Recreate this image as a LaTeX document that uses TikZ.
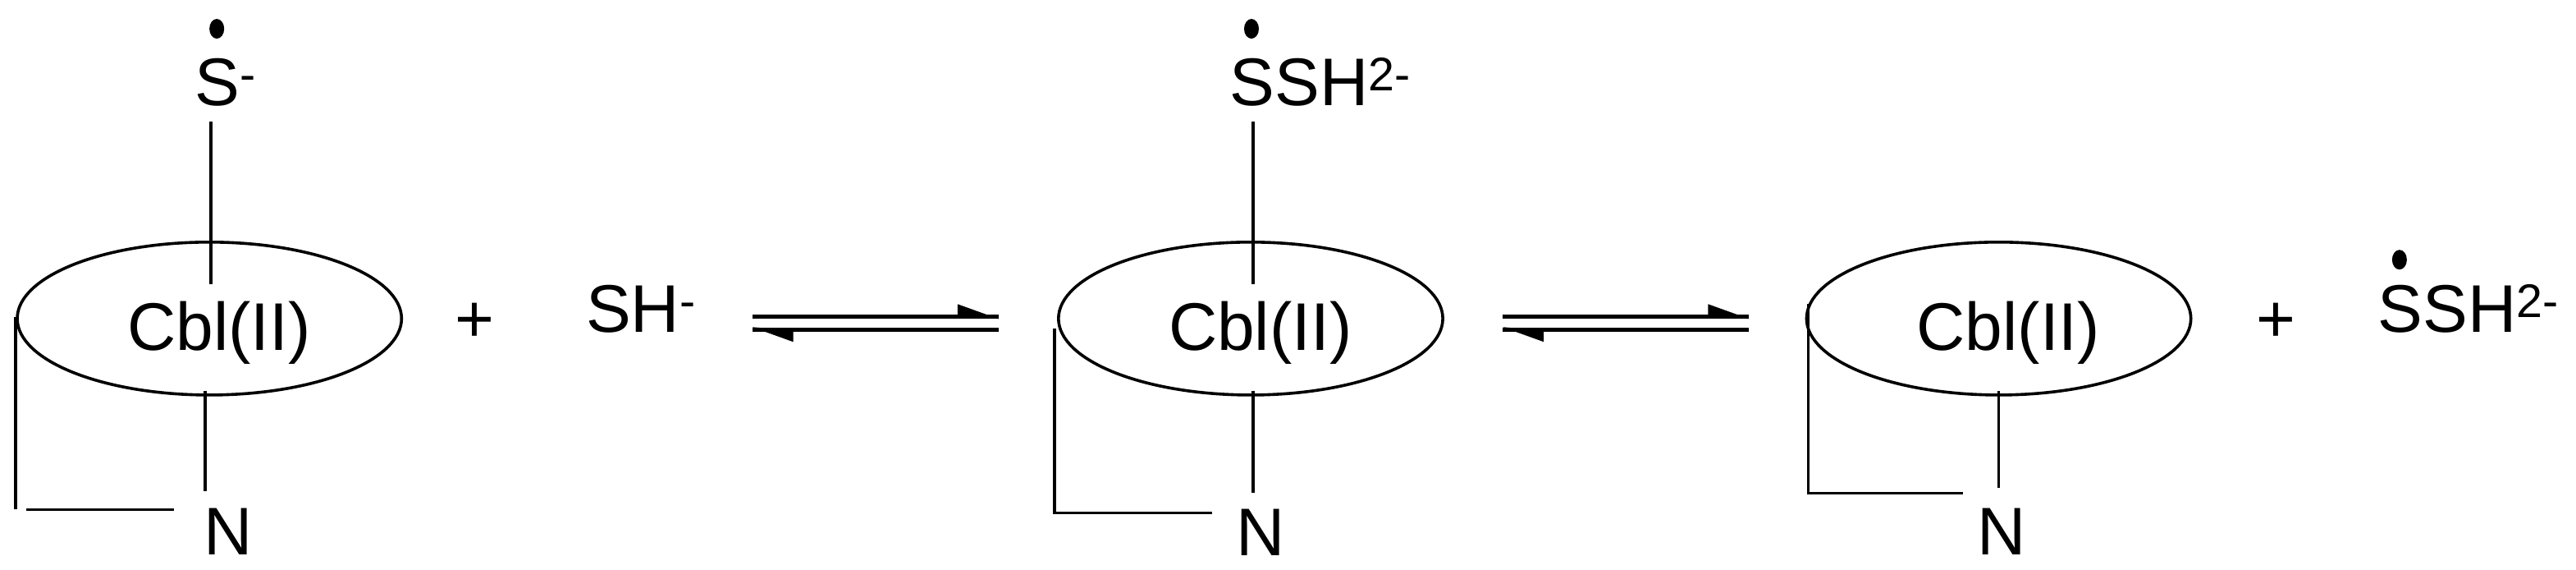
\documentclass[tikz,border=0pt]{standalone}
\usepackage{fontspec}
\setmainfont{Liberation Sans}
\usetikzlibrary{shapes.geometric}
\begin{document}
\begin{tikzpicture}[x=1pt,y=-1pt,line width=1.8pt,
  lbl/.style={inner sep=0pt,anchor=base west,font=\fontsize{41}{44}\selectfont},
  ring/.style={draw,ellipse,minimum width=234pt,minimum height=93pt,inner sep=0pt},
  rad/.style={fill,ellipse,inner sep=0pt,minimum width=9pt,minimum height=12pt},
  eqline/.style={line width=2.4pt}]
\useasboundingbox (0,0) rectangle (1568.5,346.5);
% --- molecule 1
\node[ring] (e1) at (127.5,193.8) {};
\node[lbl] (c1) at (76.7,213) {Cbl(II)};
\node[lbl] (s1) at (118,64) {S\textsuperscript{-}};
\node[rad] (d1) at (132,17.5) {};
\coordinate (t1a) at (128.5,74); \coordinate (t1b) at (128.5,173);
\draw (t1a) -- (t1b);
\node[lbl] (n1) at (123.5,337.5) {N};
\coordinate (b1a) at (125,238); \coordinate (b1b) at (125,299);
\draw (b1a) -- (b1b);
\coordinate (k1a) at (9.5,193); \coordinate (k1b) at (9.5,310);
\coordinate (k1d) at (16,310); \coordinate (k1c) at (105.7,310);
\draw (k1a) -- (k1b) (k1d) -- (k1c);
\node[lbl] (p1) at (276,208) {+};
\node[lbl] (sh) at (356,202) {SH\textsuperscript{-}};
% --- arrows 1
\coordinate (a1l) at (458,192.5); \coordinate (a1r) at (608,192.5);
\coordinate (a1l2) at (458,200.5); \coordinate (a1r2) at (608,200.5);
\draw[eqline] (a1l) -- (a1r); \fill (a1r) ++(0,1.5) -- ++(-25,-9) -- ++(0,7) -- cycle;
\draw[eqline] (a1l2) -- (a1r2); \fill (a1l2) ++(0,-1.5) -- ++(25,9) -- ++(0,-7) -- cycle;
% --- molecule 2
\node[ring] (e2) at (761.5,193.8) {};
\node[lbl] (c2) at (710.7,213) {Cbl(II)};
\node[lbl] (s2) at (748,64) {SSH\textsuperscript{2-}};
\node[rad] (d2) at (762,17.5) {};
\coordinate (t2a) at (763,74); \coordinate (t2b) at (763,173);
\draw (t2a) -- (t2b);
\node[lbl] (n2) at (752,338) {N};
\coordinate (b2a) at (763,238); \coordinate (b2b) at (763,300);
\draw (b2a) -- (b2b);
\coordinate (k2a) at (642,200); \coordinate (k2b) at (642,312); \coordinate (k2c) at (738,312);
\draw (k2a) -- (k2b) -- (k2c);
% --- arrows 2
\coordinate (a2l) at (915,192.5); \coordinate (a2r) at (1065,192.5);
\coordinate (a2l2) at (915,200.5); \coordinate (a2r2) at (1065,200.5);
\draw[eqline] (a2l) -- (a2r); \fill (a2r) ++(0,1.5) -- ++(-25,-9) -- ++(0,7) -- cycle;
\draw[eqline] (a2l2) -- (a2r2); \fill (a2l2) ++(0,-1.5) -- ++(25,9) -- ++(0,-7) -- cycle;
% --- molecule 3
\node[ring] (e3) at (1217,193.8) {};
\node[lbl] (c3) at (1166.2,213) {Cbl(II)};
\node[lbl] (n3) at (1203,337.5) {N};
\coordinate (b3a) at (1217,238); \coordinate (b3b) at (1217,297);
\draw (b3a) -- (b3b);
\coordinate (k3a) at (1101,185); \coordinate (k3b) at (1101,300); \coordinate (k3c) at (1195,300);
\draw (k3a) -- (k3b) -- (k3c);
\node[lbl] (p2) at (1373,208) {+};
\node[rad] (d3) at (1461,158) {};
\node[lbl] (s3) at (1447,202) {SSH\textsuperscript{2-}};
\end{tikzpicture}
\end{document}
